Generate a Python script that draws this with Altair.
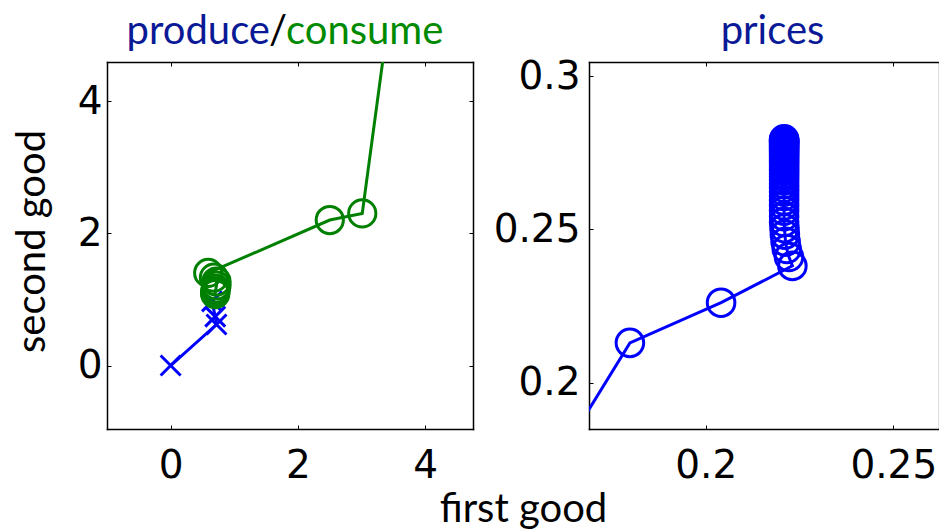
import altair as alt
import pandas as pd

# ---- data ----
produce_x = [0.00, 0.72, 0.70, 0.65]
produce_y = [0.00, 0.62, 0.74, 0.97]

consume_x = [3.60, 3.01, 2.50, 0.59, 0.68, 0.72, 0.72, 0.71, 0.70, 0.70, 0.70]
consume_y = [6.52, 2.30, 2.20, 1.40, 1.33, 1.27, 1.21, 1.16, 1.12, 1.10, 1.08]

price_x = [0.1600, 0.1798, 0.2041, 0.2231, 0.2222, 0.2216, 0.2213, 0.2211, 0.2210,
           0.2209, 0.2209, 0.2209, 0.2209, 0.2209, 0.2209, 0.2209, 0.2209,
           0.2209, 0.2209, 0.2209, 0.2209, 0.2209, 0.2209, 0.2209, 0.2209,
           0.2209, 0.2209, 0.2209, 0.2209, 0.2209, 0.2209, 0.2209, 0.2209,
           0.2209, 0.2209, 0.2209, 0.2209, 0.2209, 0.2209, 0.2209, 0.2209]
price_y = [0.1736, 0.2130, 0.2261, 0.2381, 0.2410, 0.2436, 0.2460, 0.2483, 0.2504,
           0.2524, 0.2543, 0.2561, 0.2578, 0.2594, 0.2609, 0.2623, 0.2636,
           0.2648, 0.2660, 0.2671, 0.2681, 0.2691, 0.2700, 0.2709, 0.2717,
           0.2725, 0.2732, 0.2739, 0.2745, 0.2751, 0.2757, 0.2762, 0.2767,
           0.2772, 0.2776, 0.2780, 0.2784, 0.2787, 0.2790, 0.2792, 0.2794]

left_title_parts = ["produce", "/", "consume"]
right_title = ["prices"]
x_title = "first good"
y_title = "second good"

left_x_ticks = [0, 2, 4]
left_y_ticks = [0, 2, 4]
right_x_ticks = [0.2, 0.25]
right_y_ticks = [0.2, 0.25, 0.3]

# ---- style ----
BLUE = "#0000ff"
GREEN = "#008000"
TBLUE = "#0a1a96"
TGREEN = "#008a00"
TFONT = "Lato"
LFONT = "DejaVu Sans"
TSIZE = 40
WL, WR, H = 366, 349, 367
TITLE_Y = -17.7

produce = pd.DataFrame({"x": produce_x, "y": produce_y, "i": range(len(produce_x))})
consume = pd.DataFrame({"x": consume_x, "y": consume_y, "i": range(len(consume_x))})
prices = pd.DataFrame({"x": price_x, "y": price_y, "i": range(len(price_x))})

xs_l = alt.Scale(domain=[-1.0, 4.75], nice=False, zero=False)
ys_l = alt.Scale(domain=[-0.96, 4.59], nice=False, zero=False)
xs_r = alt.Scale(domain=[0.1689, 0.26191], nice=False, zero=False)
ys_r = alt.Scale(domain=[0.1849, 0.3046], nice=False, zero=False)


def lab_axis(orient, values, **kw):
    base = dict(orient=orient, values=values, format="~g", ticks=False, grid=False,
                domain=True, domainColor="black", domainWidth=1.5, domainCap="square",
                labelFont=LFONT, labelFontSize=39, labelColor="black", title=None)
    base.update(kw)
    return alt.Axis(**base)


def tick_axis(orient, values, offset, domain=False):
    return alt.Axis(orient=orient, values=values, offset=offset, labels=False, grid=False,
                    ticks=True, tickSize=4, tickColor="black", tickWidth=1,
                    domain=domain, domainColor="black", domainWidth=1.5, domainCap="square",
                    title=None)


X_SHAPE = "M-1,-1L1,1M-1,1L1,-1"

# ---------- left panel ----------
l_a = alt.Chart(produce).mark_line(color=BLUE, strokeWidth=3, clip=True).encode(
    x=alt.X("x:Q", scale=xs_l, axis=lab_axis(
        "bottom", left_x_ticks, labelPadding=17, title=x_title, titleX=416, titleY=92,
        titleFont=TFONT, titleFontSize=TSIZE, titleFontWeight="normal", titleColor="black",
        titleBaseline="alphabetic", titleAlign="center")),
    y=alt.Y("y:Q", scale=ys_l, axis=lab_axis(
        "left", left_y_ticks, labelPadding=5, title=y_title, titleX=-55, titleY=179,
        titleFont=TFONT, titleFontSize=TSIZE, titleFontWeight="normal", titleColor="black",
        titleAngle=270, titleBaseline="bottom", titleAlign="center")),
    order="i:Q",
)
l_b = alt.Chart(produce).mark_point(shape=X_SHAPE, filled=False, size=400, strokeWidth=3,
                                    color=BLUE, opacity=1, clip=True).encode(
    x=alt.X("x:Q", scale=xs_l, axis=tick_axis("top", left_x_ticks, -H)),
    y=alt.Y("y:Q", scale=ys_l, axis=tick_axis("right", left_y_ticks, -WL)),
)
l_c = alt.Chart(consume).mark_line(color=GREEN, strokeWidth=3, clip=True).encode(
    x=alt.X("x:Q", scale=xs_l, axis=tick_axis("bottom", left_x_ticks, -H, domain=True)),
    y=alt.Y("y:Q", scale=ys_l, axis=tick_axis("left", left_y_ticks, -WL, domain=True)),
    order="i:Q",
)
l_d = alt.Chart(consume).mark_point(shape="circle", filled=False, size=740, strokeWidth=3,
                                    color=GREEN, opacity=1, clip=True).encode(
    x=alt.X("x:Q", scale=xs_l, axis=None),
    y=alt.Y("y:Q", scale=ys_l, axis=None),
)

tdf = pd.DataFrame({"t": left_title_parts})
t1 = alt.Chart(tdf).transform_filter(alt.datum.t == left_title_parts[0]).mark_text(
    align="right", baseline="alphabetic", font=TFONT, fontSize=TSIZE, color=TBLUE).encode(
    x=alt.value(163), y=alt.value(TITLE_Y), text="t:N")
t2 = alt.Chart(tdf).transform_filter(alt.datum.t == left_title_parts[1]).mark_text(
    align="center", baseline="alphabetic", font=TFONT, fontSize=TSIZE, color="black").encode(
    x=alt.value(171), y=alt.value(TITLE_Y), text="t:N")
t3 = alt.Chart(tdf).transform_filter(alt.datum.t == left_title_parts[2]).mark_text(
    align="left", baseline="alphabetic", font=TFONT, fontSize=TSIZE, color=TGREEN).encode(
    x=alt.value(179), y=alt.value(TITLE_Y), text="t:N")

left = alt.layer(l_a, l_b, l_c, l_d, t1, t2, t3).resolve_axis(
    x="independent", y="independent").properties(width=WL, height=H)

# ---------- right panel ----------
r_a = alt.Chart(prices).mark_line(color=BLUE, strokeWidth=3, clip=True).encode(
    x=alt.X("x:Q", scale=xs_r, axis=lab_axis("bottom", right_x_ticks, labelPadding=17)),
    y=alt.Y("y:Q", scale=ys_r, axis=lab_axis("left", right_y_ticks, labelPadding=9)),
    order="i:Q",
)
r_b = alt.Chart(prices).mark_point(shape="circle", filled=False, size=760, strokeWidth=3,
                                   color=BLUE, opacity=1, clip=True).encode(
    x=alt.X("x:Q", scale=xs_r, axis=tick_axis("top", right_x_ticks, -H)),
    y=alt.Y("y:Q", scale=ys_r, axis=tick_axis("right", right_y_ticks, -WR)),
)
r_c = alt.Chart(prices).mark_point(opacity=0, size=1).encode(
    x=alt.X("x:Q", scale=xs_r, axis=tick_axis("bottom", right_x_ticks, -H, domain=True)),
    y=alt.Y("y:Q", scale=ys_r, axis=None),
)
rt = alt.Chart(pd.DataFrame({"t": right_title})).mark_text(
    align="center", baseline="alphabetic", font=TFONT, fontSize=TSIZE, color=TBLUE).encode(
    x=alt.value(183.5), y=alt.value(TITLE_Y), text="t:N")

right = alt.layer(r_a, r_b, r_c, rt).resolve_axis(
    x="independent", y="independent").properties(width=WR, height=H)

chart = alt.hconcat(left, right, spacing=116, bounds="flush").properties(
    padding={"left": 3, "top": 3, "right": 0, "bottom": 0}
).configure_view(stroke=None).configure(background="white")

chart.save("out.html", embed_options={"renderer": "svg", "actions": False})
